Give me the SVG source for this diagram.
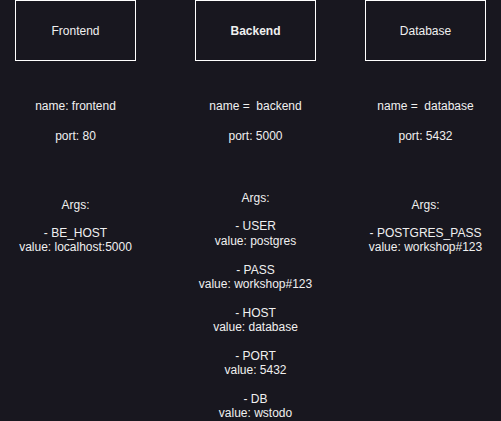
<svg xmlns="http://www.w3.org/2000/svg" width="501" height="421" viewBox="0 0 501 421">
<style>
.box{fill:#18171f;stroke:#ffffff;stroke-width:1}
text{font-family:"Liberation Sans",Arial,sans-serif;font-size:12px;fill:#f0f0f0;text-anchor:middle}
.b{font-weight:bold}
</style>
<rect width="501" height="421" fill="#18171f"/>
<g id="frontend">
<rect class="box" x="15.5" y="0.5" width="120" height="60"/>
<text x="75.5" y="34.5">Frontend</text>
</g>
<g id="backend">
<rect class="box" x="195.5" y="0.5" width="120" height="60"/>
<text class="b" x="255.5" y="34.5">Backend</text>
</g>
<g id="database">
<rect class="box" x="365.5" y="0.5" width="120" height="60"/>
<text x="425.5" y="34.5">Database</text>
</g>
<g id="frontend-info">
<text x="75.5" y="109.5">name: frontend</text>
<text x="75.5" y="139.5">port: 80</text>
<text x="75.5" y="208.5">Args:</text>
<text x="75.5" y="236.5">- BE_HOST</text>
<text x="75.5" y="251">value: localhost:5000</text>
</g>
<g id="backend-info">
<text x="255.5" y="109.5" xml:space="preserve">name =  backend</text>
<text x="255.5" y="139.5">port: 5000</text>
<text x="255.5" y="201.5">Args:</text>
<text x="255.5" y="230">- USER</text>
<text x="255.5" y="244.5">value: postgres</text>
<text x="255.5" y="273.5">- PASS</text>
<text x="255.5" y="288">value: workshop#123</text>
<text x="255.5" y="316.5">- HOST</text>
<text x="255.5" y="331">value: database</text>
<text x="255.5" y="359.5">- PORT</text>
<text x="255.5" y="374">value: 5432</text>
<text x="255.5" y="402.5">- DB</text>
<text x="255.5" y="417">value: wstodo</text>
</g>
<g id="database-info">
<text x="425.5" y="109.5" xml:space="preserve">name =  database</text>
<text x="425.5" y="139.5">port: 5432</text>
<text x="425.5" y="208.5">Args:</text>
<text x="425.5" y="236.5">- POSTGRES_PASS</text>
<text x="425.5" y="251">value: workshop#123</text>
</g>
<g id="connectors"></g>
</svg>
